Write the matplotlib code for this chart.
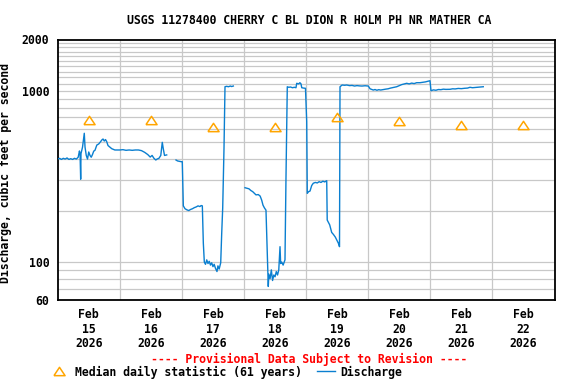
import numpy as np
import matplotlib
matplotlib.use("Agg")
import matplotlib.pyplot as plt
from matplotlib.lines import Line2D

# ---------------- data ----------------
title = "USGS 11278400 CHERRY C BL DION R HOLM PH NR MATHER CA"
ylabel = "Discharge, cubic feet per second"
provisional = "---- Provisional Data Subject to Revision ----"
legend_median = "Median daily statistic (61 years)"
legend_q = "Discharge"

# days since Feb 15 2026 00:00 ; NaN marks data gaps
q_days = [
    0.00, 0.03, 0.06, 0.09, 0.12, 0.15, 0.18, 0.21, 0.24, 0.27, 0.30, 0.33, 0.35, 0.36, 0.37, 0.375,
    0.40, 0.42, 0.428, 0.44, 0.46, 0.48, 0.50, 0.52, 0.54, 0.56, 0.58, 0.60, 0.63, 0.66, 0.69, 0.71,
    0.73, 0.75, 0.77, 0.79, 0.81, 0.84, 0.87, 0.90, 0.92, 0.95, 1.00, 1.05, 1.10, 1.15, 1.20, 1.25,
    1.30, 1.35, 1.40, 1.45, 1.49, 1.52, 1.55, 1.58, 1.60, 1.63, 1.66, 1.684, 1.70, 1.72, 1.755,
    1.80,
    1.905, 1.93, 1.96, 1.99, 2.006, 2.023, 2.05, 2.08, 2.11, 2.14, 2.17, 2.20, 2.23, 2.26, 2.29, 2.31,
    2.329, 2.345, 2.361, 2.38, 2.40, 2.42, 2.44, 2.46, 2.48, 2.50, 2.52, 2.54, 2.565, 2.58, 2.60,
    2.625, 2.641, 2.657, 2.678, 2.694, 2.72, 2.75, 2.78, 2.80, 2.828,
    2.90,
    3.016, 3.05, 3.08, 3.11, 3.14, 3.17, 3.193, 3.23, 3.26, 3.285, 3.306, 3.33, 3.354, 3.37, 3.382,
    3.391, 3.40, 3.42, 3.44, 3.46, 3.48, 3.50, 3.52, 3.54, 3.56, 3.58, 3.59, 3.607, 3.63, 3.66,
    3.676, 3.697, 3.72, 3.75, 3.78, 3.81, 3.837, 3.849, 3.88, 3.90, 3.918, 3.93, 3.96, 3.99, 4.010,
    4.019, 4.04, 4.063, 4.09, 4.116, 4.15, 4.18, 4.21, 4.24, 4.27, 4.30, 4.332, 4.34, 4.38, 4.412,
    4.44, 4.47, 4.50, 4.519, 4.538, 4.546, 4.58, 4.62, 4.654, 4.70, 4.74, 4.78, 4.82, 4.86, 4.90,
    4.95, 5.002, 5.03, 5.06, 5.082, 5.11, 5.14, 5.17, 5.20, 5.243, 5.28, 5.32, 5.36, 5.40, 5.43,
    5.459, 5.50, 5.54, 5.58, 5.62, 5.66, 5.70, 5.74, 5.78, 5.834, 5.88, 5.92, 5.96, 5.995, 6.011,
    6.05, 6.09, 6.13, 6.17, 6.21, 6.25, 6.317, 6.36, 6.40, 6.45, 6.50, 6.55, 6.60, 6.639, 6.68,
    6.72, 6.76, 6.80, 6.853,
]
q_cfs = [
    400, 404, 398, 404, 400, 406, 398, 402, 398, 404, 400, 410, 446, 430, 305, 430,
    470, 540, 566, 470, 420, 400, 440, 420, 410, 425, 445, 450, 483, 490, 505, 517,
    524, 510, 520, 505, 480, 470, 460, 455, 452, 452, 452, 454, 450, 452, 450, 452,
    452, 448, 438, 425, 411, 420, 404, 395, 400, 404, 420, 501, 460, 420, 423,
    np.nan,
    395, 390, 388, 386, 386, 213, 205, 202, 200, 203, 205, 208, 210, 213, 211, 214,
    213, 129, 100, 97, 103, 98, 101, 96, 99, 94, 97, 92, 88, 95, 91,
    99, 147, 207, 464, 1059, 1065, 1059, 1069, 1062, 1069,
    np.nan,
    272, 270, 268, 262, 258, 252, 247, 248, 243, 230, 215, 207, 201, 131, 92,
    72, 85, 80, 90, 78, 84, 82, 88, 84, 90, 123, 98, 100, 96, 103,
    309, 1059, 1051, 1055, 1045, 1051, 1045, 1109, 1100, 1118, 1100, 1045, 1040, 1037, 661,
    252, 258, 260, 280, 289, 292, 290, 295, 292, 297, 294, 299, 176, 165, 149,
    145, 140, 133, 129, 123, 1059, 1084, 1080, 1084, 1075, 1078, 1069, 1075, 1071, 1069,
    1073, 1069, 1030, 1020, 1013, 1020, 1010, 1018, 1013, 1020, 1025, 1030, 1040, 1048, 1055,
    1059, 1075, 1090, 1100, 1109, 1100, 1112, 1105, 1118, 1118, 1125, 1130, 1140, 1148, 1004,
    1015, 1010, 1020, 1018, 1025, 1022, 1023, 1030, 1028, 1035, 1032, 1037, 1040, 1051, 1045,
    1048, 1051, 1055, 1059,
]

median_days = [0.5, 1.5, 2.5, 3.5, 4.5, 5.5, 6.5, 7.5]
median_cfs = [677, 677, 612, 612, 700, 672, 632, 632]

xtick_pos = [0.5, 1.5, 2.5, 3.5, 4.5, 5.5, 6.5, 7.5]
xtick_labels = ["Feb\n15\n2026", "Feb\n16\n2026", "Feb\n17\n2026", "Feb\n18\n2026",
                "Feb\n19\n2026", "Feb\n20\n2026", "Feb\n21\n2026", "Feb\n22\n2026"]
ytick_major = [60, 100, 1000, 2000]
ygrid = [70, 80, 90, 100, 200, 300, 400, 500, 600, 700, 800, 900, 1000,
         1100, 1200, 1300, 1400, 1500, 1600, 1700, 1800, 1900]

# ---------------- style ----------------
FONT = "DejaVu Sans Mono"
FS = 8.3
BLUE = "#0a7fd0"
ORANGE = "#ffa500"
GRID = "#c8c8c8"

fig = plt.figure(figsize=(5.76, 3.84), dpi=100)
ax = fig.add_axes([57.7/576, 1 - 300/384, (554.5-57.7)/576, (300-39.5)/384])

ax.set_yscale("log")
ax.set_ylim(60, 2000)
ax.set_xlim(0, 8)

# grid
for g in ygrid:
    ax.axhline(g, color=GRID, lw=0.9, zorder=0)
for d in range(1, 8):
    ax.axvline(d, color=GRID, lw=0.9, zorder=0)

ax.plot(q_days, q_cfs, color=BLUE, lw=1.0, zorder=3)

tri = [(-1, -0.75), (1, -0.75), (0, 0.75), (-1, -0.75)]
ax.plot(median_days, median_cfs, linestyle="none", marker=tri, markersize=8,
        markerfacecolor="none", markeredgecolor=ORANGE, markeredgewidth=1.1, zorder=4)

ax.set_yticks(ytick_major)
ax.set_yticklabels([str(v) for v in ytick_major], fontfamily=FONT, fontweight="bold", fontsize=FS)
ax.yaxis.set_minor_locator(matplotlib.ticker.NullLocator())
ax.set_xticks(xtick_pos)
ax.set_xticklabels(xtick_labels, fontfamily=FONT, fontweight="bold", fontsize=FS, linespacing=1.15)
ax.tick_params(axis="both", length=0)
ax.tick_params(axis="y", pad=6)
ax.tick_params(axis="x", pad=6)
for s in ax.spines.values():
    s.set_linewidth(1.3)
    s.set_color("black")

ax.set_ylabel(ylabel, fontfamily=FONT, fontweight="bold", fontsize=FS, labelpad=6)
ax.yaxis.set_label_coords(-(57.7-12)/(554.5-57.7), (300-173)/(300-39.5))

fig.text(309/576, 1 - 20/384, title, ha="center", va="center",
         fontfamily=FONT, fontweight="bold", fontsize=FS)
fig.text(309/576, 1 - 359/384, provisional, ha="center", va="center",
         fontfamily=FONT, fontweight="bold", fontsize=FS, color="#ff0000")

# legend (manual)
fig.add_artist(Line2D([59/576], [1 - 371/384], linestyle="none", marker=tri, markersize=8,
                      markerfacecolor="none", markeredgecolor=ORANGE, markeredgewidth=1.1,
                      transform=fig.transFigure))
fig.text(75/576, 1 - 372/384, legend_median, ha="left", va="center",
         fontfamily=FONT, fontweight="bold", fontsize=FS)
fig.add_artist(Line2D([317/576, 335/576], [1 - 371/384, 1 - 371/384], color=BLUE, lw=1.0,
                      transform=fig.transFigure))
fig.text(340/576, 1 - 372/384, legend_q, ha="left", va="center",
         fontfamily=FONT, fontweight="bold", fontsize=FS)

fig.savefig("out.png", dpi=100)
